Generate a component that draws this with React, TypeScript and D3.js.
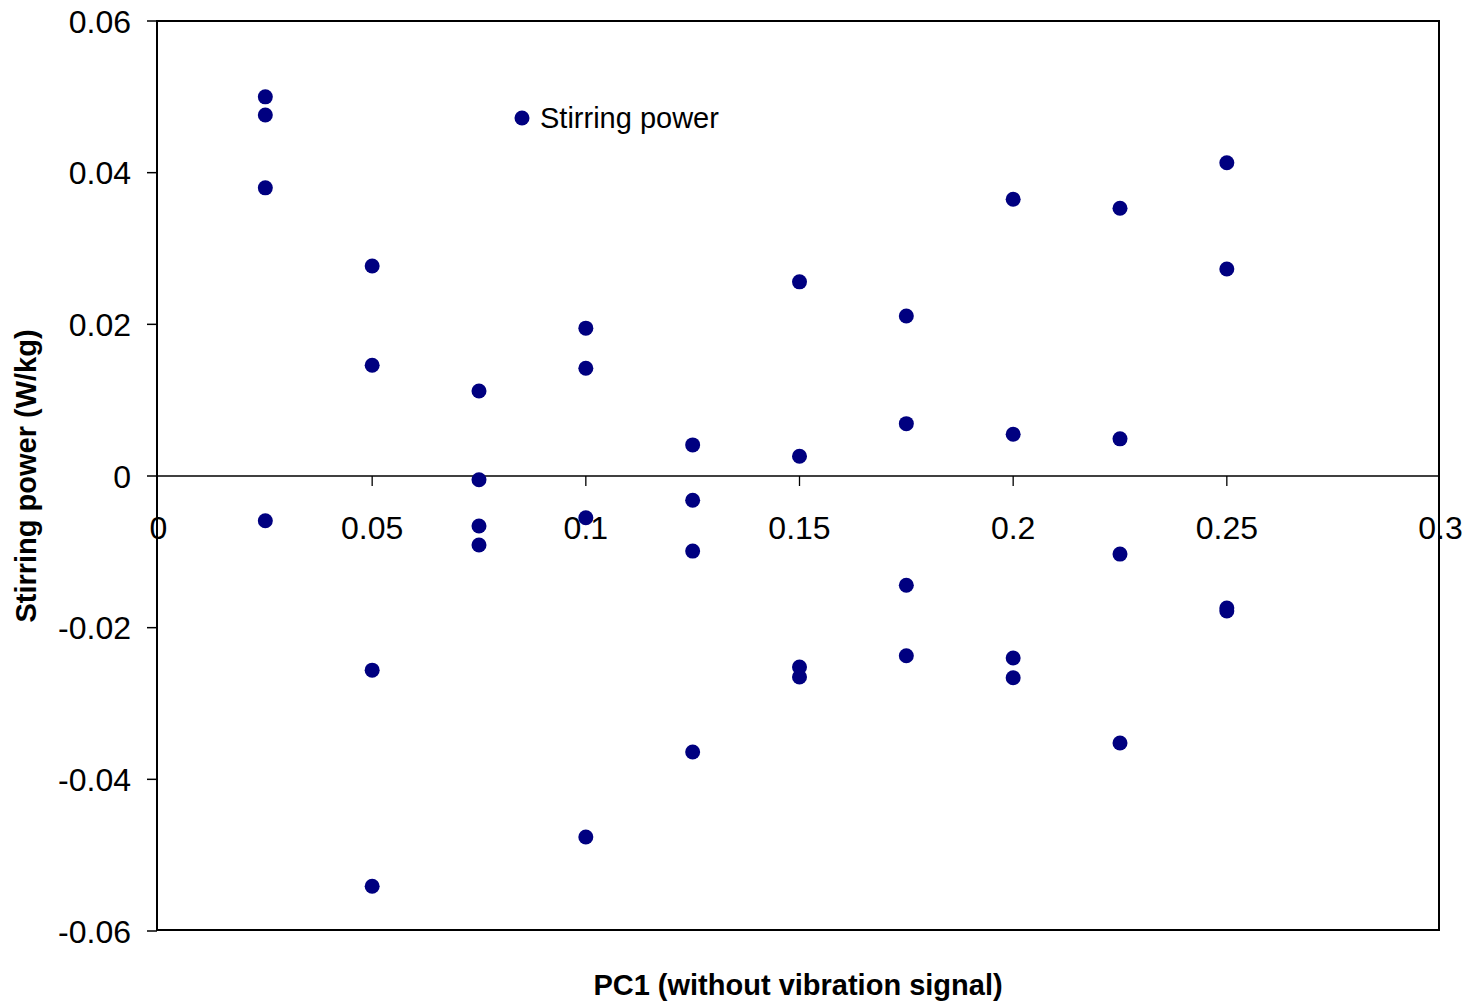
import React from "react";
import * as d3 from "d3";

const xValues = [0.025, 0.05, 0.075, 0.1, 0.125, 0.15, 0.175, 0.2, 0.225, 0.25];
const yGroups = [
  [0.05, 0.0476, 0.038, -0.0059],
  [0.0277, 0.0146, -0.0256, -0.0541],
  [0.0112, -0.0005, -0.0066, -0.0091],
  [0.0195, 0.0142, -0.0055, -0.0476],
  [0.0041, -0.0032, -0.0099, -0.0364],
  [0.0256, 0.0026, -0.0252, -0.0265],
  [0.0211, 0.0069, -0.0144, -0.0237],
  [0.0365, 0.0055, -0.024, -0.0266],
  [0.0353, 0.0049, -0.0103, -0.0352],
  [0.0413, 0.0273, -0.0174, -0.0178],
];
const xTicks = [0, 0.05, 0.1, 0.15, 0.2, 0.25, 0.3];
const yTicks = [0.06, 0.04, 0.02, 0, -0.02, -0.04, -0.06];
const seriesName = "Stirring power";
const xTitle = "PC1 (without vibration signal)";
const yTitle = "Stirring power (W/kg)";

const W = 1470;
const H = 1002;
const left = 157;
const right = 1439;
const top = 21;
const bottom = 930;
const font = "'Liberation Sans', Arial, sans-serif";
const color = "#000080";

export default function App() {
  const x = d3.scaleLinear().domain([0, 0.3]).range([158.5, 1440.5]);
  const y = d3.scaleLinear().domain([-0.06, 0.06]).range([931, 21]);
  const fmt = (v: number) => (v === 0 ? "0" : String(+v.toFixed(2)));
  const pts = xValues.flatMap((xv, i) => yGroups[i].map((yv) => ({ xv, yv })));

  return (
    <svg
      width={W}
      height={H}
      style={{ position: "absolute", left: 0, top: 0, background: "#fff" }}
    >
      <rect x={0} y={0} width={W} height={H} fill="#fff" />
      <rect
        x={left}
        y={top}
        width={right - left}
        height={bottom - top}
        fill="none"
        stroke="#000"
        strokeWidth={2}
      />
      {yTicks.map((t) => (
        <g key={"y" + t}>
          <line x1={left - 10} x2={left} y1={y(t)} y2={y(t)} stroke="#000" strokeWidth={1.5} />
          <text
            x={131}
            y={y(t)}
            dy="0.36em"
            textAnchor="end"
            fontFamily={font}
            fontSize={32}
            fill="#000"
          >
            {fmt(t)}
          </text>
        </g>
      ))}
      <line x1={left} x2={right} y1={y(0)} y2={y(0)} stroke="#000" strokeWidth={1.3} />
      {xTicks.map((t) => (
        <g key={"x" + t}>
          {t > 0 && t < 0.3 && (
            <line x1={x(t)} x2={x(t)} y1={y(0)} y2={y(0) + 10} stroke="#000" strokeWidth={1.3} />
          )}
          <text
            x={x(t)}
            y={539}
            textAnchor="middle"
            fontFamily={font}
            fontSize={32}
            fill="#000"
          >
            {fmt(t)}
          </text>
        </g>
      ))}
      {pts.map((p, i) => (
        <circle key={i} cx={x(p.xv)} cy={y(p.yv)} r={7.5} fill={color} />
      ))}
      <circle cx={522} cy={118} r={7.5} fill={color} />
      <text x={540} y={128} fontFamily={font} fontSize={29} fill="#000">
        {seriesName}
      </text>
      <text
        x={798}
        y={995}
        textAnchor="middle"
        fontFamily={font}
        fontSize={29}
        fontWeight="bold"
        fill="#000"
      >
        {xTitle}
      </text>
      <text
        transform={`translate(36, 476) rotate(-90)`}
        textAnchor="middle"
        fontFamily={font}
        fontSize={29}
        fontWeight="bold"
        fill="#000"
      >
        {yTitle}
      </text>
    </svg>
  );
}
